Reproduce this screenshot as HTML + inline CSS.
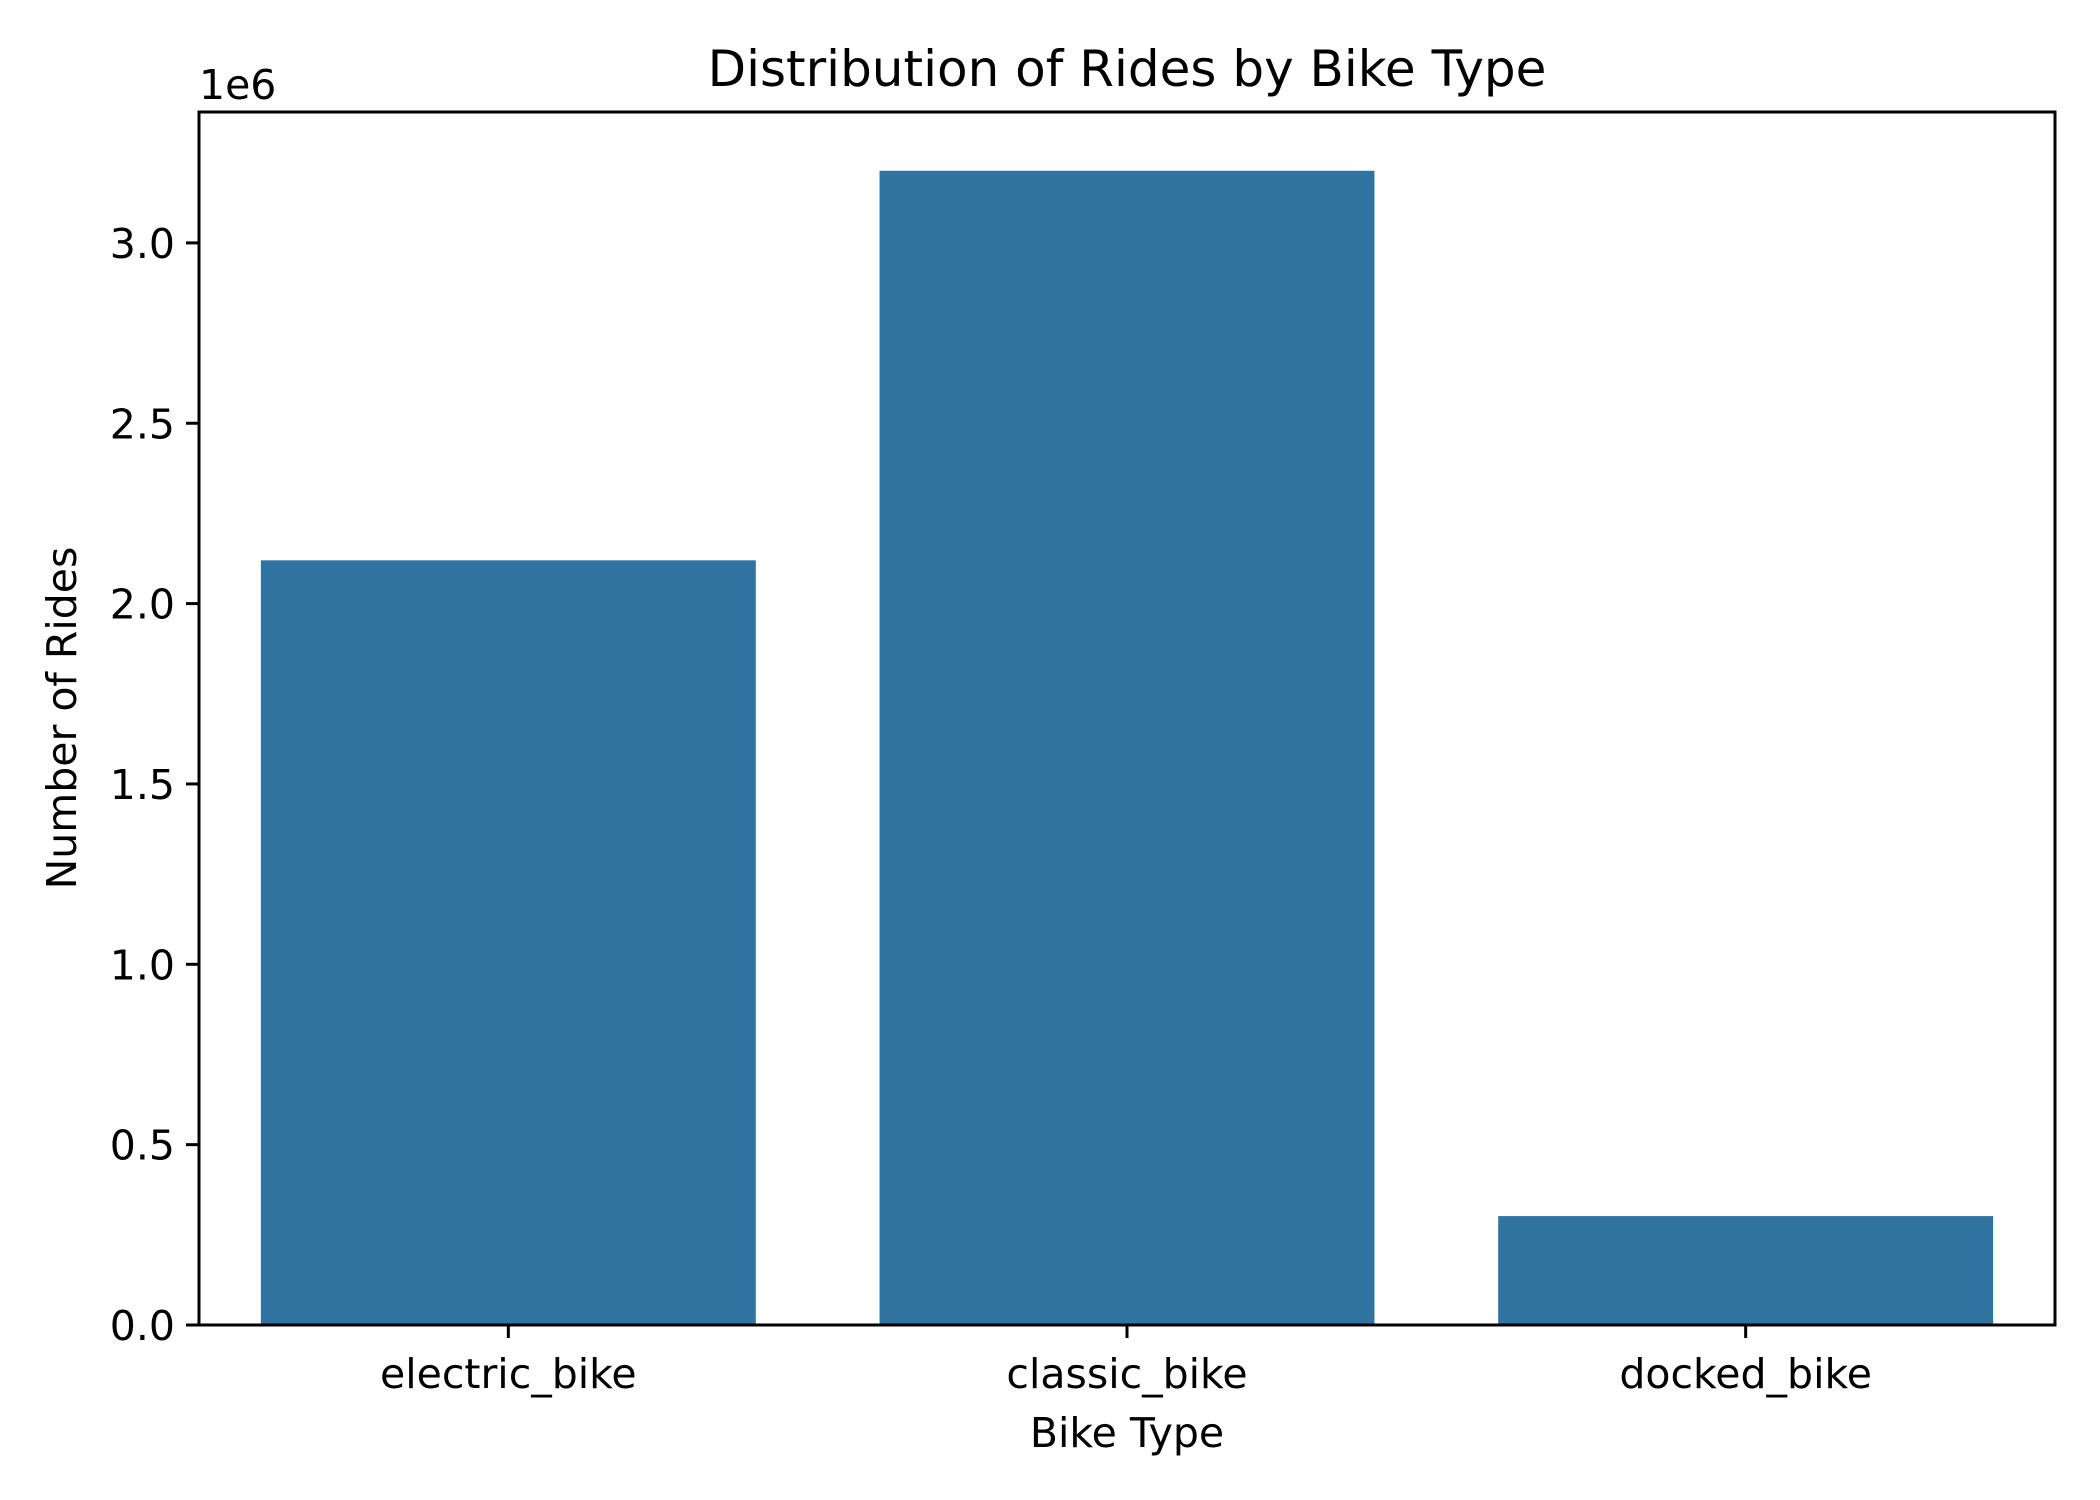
<!DOCTYPE html>
<html><head><meta charset="utf-8"><style>
html,body{margin:0;padding:0;background:#fff;}
svg{display:block;font-family:"DejaVu Sans","Liberation Sans",sans-serif;}
</style></head><body>
<svg id="chart" width="2100" height="1500" viewBox="0 0 2100 1500" xmlns="http://www.w3.org/2000/svg">
<rect width="2100" height="1500" fill="#fff"/>
<text x="1127" y="86" font-size="50" text-anchor="middle">Distribution of Rides by Bike Type</text>
<text x="199" y="99" font-size="41">1e6</text>
<g id="bars"></g>
<g id="yticks"></g>
<g id="xticks"></g>
<rect x="199" y="112" width="1856" height="1213" fill="none" stroke="#000" stroke-width="3"/>
<text x="1127" y="1447" font-size="41" text-anchor="middle">Bike Type</text>
<text transform="translate(76,718) rotate(-90)" font-size="41" text-anchor="middle">Number of Rides</text>
</svg>
<script>
const categories = ["electric_bike", "classic_bike", "docked_bike"];
const rides = [2.12e6, 3.20e6, 0.302e6];
const yTickValues = [0, 0.5e6, 1.0e6, 1.5e6, 2.0e6, 2.5e6, 3.0e6];
const yTickLabels = ["0.0", "0.5", "1.0", "1.5", "2.0", "2.5", "3.0"];

const L = 199, R = 2055, T = 112, B = 1325;
const yMax = (B - T) / 360.7 * 1e6;
function y(v){ return B - v / yMax * (B - T); }
const band = (R - L) / categories.length;
function xc(i){ return L + band * (i + 0.5); }
const NS = "http://www.w3.org/2000/svg";
const bars = document.getElementById("bars");
const yt = document.getElementById("yticks");
const xt = document.getElementById("xticks");
function mk(tag, attrs){ const e = document.createElementNS(NS, tag); for (const k in attrs) e.setAttribute(k, attrs[k]); return e; }

rides.forEach((v, i) => {
  const w = band * 0.8;
  const r = mk("rect", {x: xc(i) - w/2, y: y(v), width: w, height: B - y(v), fill: "#3274a1"});
  
  
  bars.appendChild(r);
  const tk = mk("line", {x1: xc(i), x2: xc(i), y1: B, y2: B + 13, stroke: "#000", "stroke-width": 3});
  
  
  xt.appendChild(tk);
  const t = mk("text", {x: xc(i), y: B + 63, "font-size": 41, "text-anchor": "middle"});
  t.textContent = categories[i];
  
  
  xt.appendChild(t);
});
yTickValues.forEach((v, i) => {
  const tk = mk("line", {x1: L - 13, x2: L, y1: y(v), y2: y(v), stroke: "#000", "stroke-width": 3});
  
  
  yt.appendChild(tk);
  const t = mk("text", {x: L - 24, y: y(v) + 15, "font-size": 41, "text-anchor": "end"});
  t.textContent = yTickLabels[i];
  
  
  yt.appendChild(t);
});
</script>
</body></html>
